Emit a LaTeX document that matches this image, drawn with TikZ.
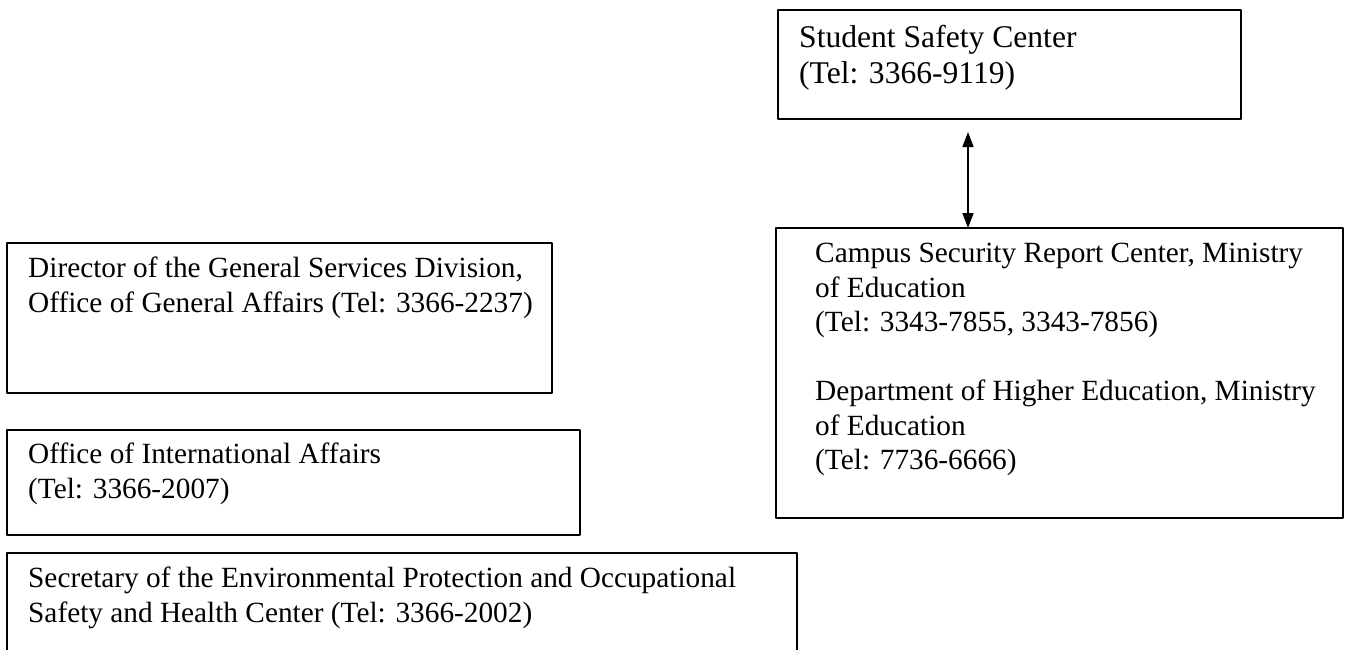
\documentclass[tikz,border=0pt]{standalone}
\usepackage{fontspec}
\setmainfont{Liberation Serif}
\usetikzlibrary{positioning,arrows.meta}
\tikzset{
  box/.style={draw, line width=1.8pt, rectangle, anchor=north west, inner sep=0pt, outer sep=0pt},
  txt/.style={inner sep=0pt, align=left, execute at begin node=\strut}
}
\begin{document}
\begin{tikzpicture}[x=1pt,y=-1pt,font=\fontsize{29.3}{34.5}\selectfont,line join=round,>={Triangle[length=15pt,width=11pt]}]
\clip (0,0) rectangle (1352,649);
% boxes
\node[box,minimum width=463pt,minimum height=109pt] (ssc) at (778,10) {};
\node[box,minimum width=567pt,minimum height=290pt] (csr) at (776,228) {};
\node[box,minimum width=545pt,minimum height=150pt] (gsd) at (7,243) {};
\node[box,minimum width=573pt,minimum height=105pt] (oia) at (7,430) {};
\node[box,minimum width=790pt,minimum height=130pt] (eps) at (7,553) {};
% texts
\node[txt,font=\fontsize{31.6}{36}\selectfont,below right=15pt and 21pt of ssc.north west] (ssct) {Student Safety Center\\(Tel: 3366-9119)};
\node[txt,below right=15pt and 39pt of csr.north west] (csrt) {Campus Security Report Center, Ministry\\of Education\\(Tel: 3343-7855, 3343-7856)\\[34.5pt]Department of Higher Education, Ministry\\of Education\\(Tel: 7736-6666)};
\node[txt,below right=14pt and 21pt of gsd.north west] (gsdt) {Director of the General Services Division,\\Office of General Affairs (Tel: 3366-2237)};
\node[txt,below right=13pt and 21pt of oia.north west] (oiat) {Office of International Affairs\\(Tel: 3366-2007)};
\node[txt,below right=14pt and 21pt of eps.north west] (epst) {Secretary of the Environmental Protection and Occupational\\Safety and Health Center (Tel: 3366-2002)};
% link
\coordinate (ax) at (968,0);
\draw[<->,line width=1.5pt,shorten <=13pt] (ax |- ssc.south) -- (ax |- csr.north);
\end{tikzpicture}
\end{document}
